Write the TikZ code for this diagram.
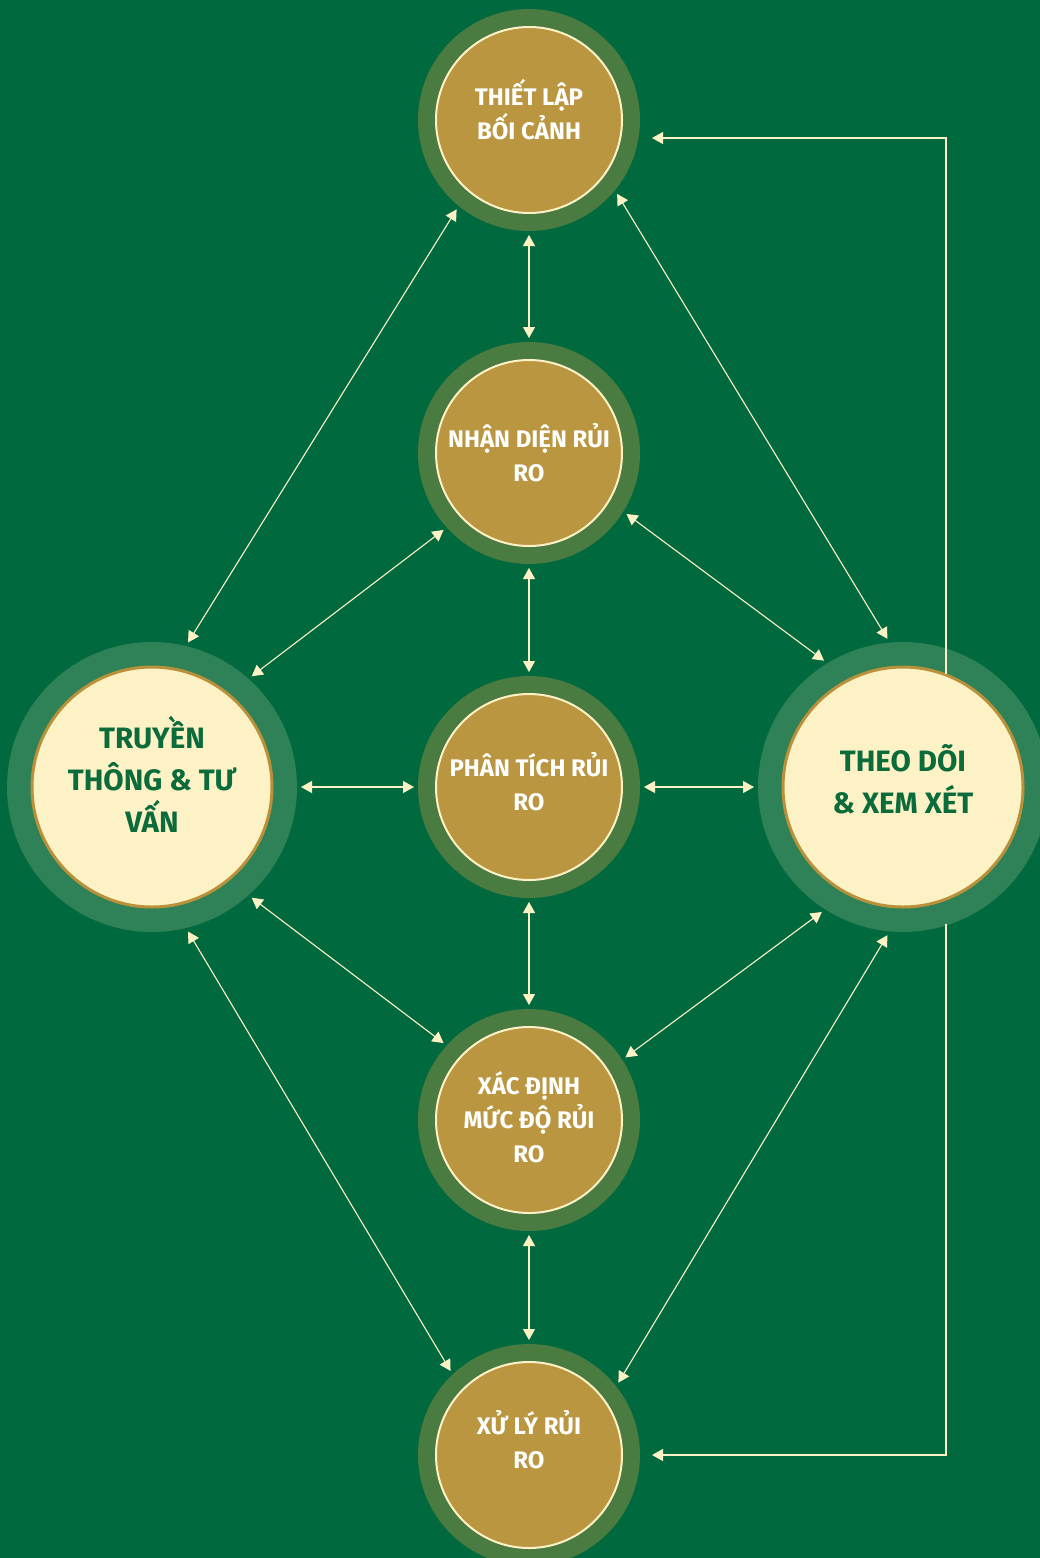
\documentclass[tikz,border=0pt]{standalone}
\usepackage{fontspec}
\setmainfont{Fira Sans}
\usetikzlibrary{arrows.meta}

\definecolor{bggreen}{HTML}{006A3E}
\definecolor{ringolive}{HTML}{4A7B41}
\definecolor{goldfill}{HTML}{B9963F}
\definecolor{creamy}{HTML}{FDF1C6}
\definecolor{ringside}{HTML}{2F8157}
\definecolor{goldline}{HTML}{B8913A}
\definecolor{textgreen}{HTML}{0B6B3A}

\tikzset{
  stage/.style={circle, fill=ringolive, minimum size=222pt, inner sep=0pt, outer sep=4pt,
    path picture={\draw[creamy, line width=2pt, fill=goldfill]
      (path picture bounding box.center) circle (93pt);}},
  stagetext/.style={text=white, align=center, inner sep=0pt,
    font=\fontsize{24}{34}\selectfont\bfseries},
  sidestage/.style={circle, fill=ringside, minimum size=290pt, inner sep=0pt, outer sep=4pt,
    path picture={\draw[goldline, line width=3pt, fill=creamy]
      (path picture bounding box.center) circle (120pt);}},
  sidetext/.style={text=textgreen, align=center, inner sep=0pt,
    font=\fontsize{29.5}{42}\selectfont\bfseries},
  link/.style={creamy, line width=1.1pt,
    {Triangle[length=11pt,width=12pt]}-{Triangle[length=11pt,width=12pt]}},
  loop/.style={creamy, line width=1.1pt, -{Triangle[length=11pt,width=12pt]}}
}

\begin{document}
\begin{tikzpicture}[x=1pt,y=-1pt]
        % Background
        \fill[bggreen] (0,0) rectangle (1040,1558);
        \useasboundingbox (0,0) rectangle (1040,1558);

        % Define the steps
        \node[stage, label={[stagetext, yshift=10pt]center:{THIẾT LẬP\\BỐI CẢNH}}] (ctx) at (529,120) {};
        \node[stage, label={[stagetext]center:{NHẬN DIỆN RỦI\\RO}}] (ident) at (529,453) {};
        \node[stage, label={[stagetext, yshift=5pt]center:{PHÂN TÍCH RỦI\\RO}}] (anal) at (529,787) {};
        \node[stage, label={[stagetext, yshift=3pt]center:{XÁC ĐỊNH\\MỨC ĐỘ RỦI\\RO}}] (eval) at (529,1120) {};
        \node[stage, label={[stagetext, yshift=15pt]center:{XỬ LÝ RỦI\\RO}}] (treat) at (529,1455) {};

        \node[sidestage, label={[sidetext, yshift=13pt]center:{TRUYỀN\\THÔNG \& TƯ\\VẤN}}] (comm) at (152,787) {};
        \node[sidestage, label={[sidetext, yshift=8pt]center:{THEO DÕI\\\& XEM XÉT}}] (mon) at (903,787) {};

        % Draw arrows
        \draw[link] (ctx) -- (ident);
        \draw[link] (ident) -- (anal);
        \draw[link] (anal) -- (eval);
        \draw[link] (eval) -- (treat);
        \draw[link] (comm) -- (anal);
        \draw[link] (anal) -- (mon);

        \draw[link] (comm.76) -- (ctx.231);
        \draw[link] (comm.48) -- (ident.222);
        \draw[link] (comm.312) -- (eval.138);
        \draw[link] (comm.284) -- (treat.133);
        \draw[link] (ctx.320) -- (mon.96);
        \draw[link] (ident.328) -- (mon.122);
        \draw[link] (eval.33) -- (mon.237);
        \draw[link] (treat.39) -- (mon.264);

        % Feedback lines
        \coordinate (montop) at ([shift={(43pt,113pt)}]mon.center);
        \coordinate (monbot) at ([shift={(43pt,-137pt)}]mon.center);
        \coordinate (ctxin) at ([shift={(123pt,-18pt)}]ctx.center);
        \coordinate (treatin) at ([shift={(123pt,0pt)}]treat.center);
        \draw[loop] (montop) |- (ctxin);
        \draw[loop] (monbot) |- (treatin);
    \end{tikzpicture}
\end{document}
